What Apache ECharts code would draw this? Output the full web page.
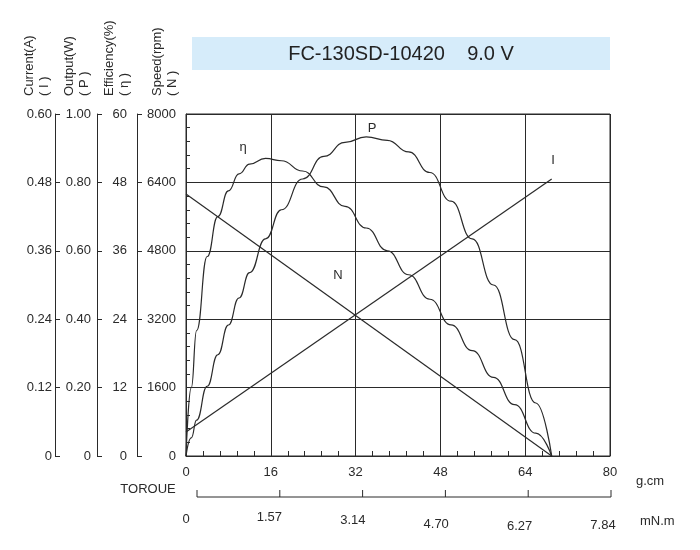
<!DOCTYPE html>
<html><head><meta charset="utf-8">
<script src="https://cdn.jsdelivr.net/npm/echarts@6/dist/echarts.min.js"></script>
<style>html,body{margin:0;padding:0;background:#fff}#c{width:700px;height:550px}</style>
</head><body><div id="c"></div>
<script>
var torque = [0,1,2,4,6,8,10,12,15,18,22,26,30,34,38,42,46,50,54,58,62,66,69];
var output = [0,0.053,0.105,0.204,0.296,0.383,0.462,0.536,0.635,0.720,0.810,0.876,0.917,0.933,0.923,0.889,0.829,0.745,0.635,0.500,0.340,0.155,0];
var efficiency = [0,12,22,35,42,46.5,49.5,51.2,52.2,51.8,50,47.2,43.8,40,36,31.8,27.5,23,18.5,13.8,9,4,0];
var currentPts = [[0,0.042],[69,0.486]];
var speedPts = [[0,6130],[69,0]];
var xTicks = [0,16,32,48,64,80];
var mNmTicks = ['0','1.57','3.14','4.70','6.27','7.84'];
var mNmY = [519,517,520,524,526,525];
var title = 'FC-130SD-10420    9.0 V';
var axisNames = [['Current(A)','( I )',37],['Output(W)','( P )',77],['Efficiency(%)','( η )',117],['Speed(rpm)','( N )',165]];

var C = '#2a2a2a';
var F = 'Liberation Sans, Arial, sans-serif';
function fmt2(v){return v===0?'0':v.toFixed(2);}
function lineAxis(off,min,max,iv){return {type:'value',position:'left',offset:off,min:min,max:max,interval:iv,
  axisLine:{show:true,lineStyle:{color:C}},axisTick:{show:true,inside:true,length:5,lineStyle:{color:C}},
  axisLabel:{show:false},splitLine:{show:false}};}
function labelAxis(off,min,max,iv,f){return {type:'value',position:'left',offset:off,min:min,max:max,interval:iv,
  axisLine:{show:false},axisTick:{show:false},splitLine:{show:false},
  axisLabel:{show:true,margin:3,color:C,fontSize:13,fontFamily:F,formatter:f}};}
var chart = echarts.init(document.getElementById('c'));
var yAxes = [
  {type:'value',min:0,max:8000,interval:1600,axisLine:{show:true,lineStyle:{color:C}},
   axisTick:{show:true,inside:true,length:0},minorTick:{show:true,splitNumber:5,length:4,lineStyle:{color:C}},
   axisLabel:{show:false},splitLine:{show:true,lineStyle:{color:C,width:1}}},
  Object.assign(lineAxis(131,0,0.6,0.12),{axisLabel:{show:true,margin:3,color:C,fontSize:13,fontFamily:F,formatter:fmt2}}),
  labelAxis(92,0,1,0.2,fmt2),
  lineAxis(89,0,60,12),
  labelAxis(56,0,60,12,function(v){return String(v);}),
  lineAxis(49,0,8000,1600),
  labelAxis(7,0,8000,1600,function(v){return String(v);})
];
var ls = {color:C,width:1.2};
chart.setOption({
  animation:false,
  grid:{left:186,top:114,right:90,bottom:94,show:true,borderColor:C,borderWidth:1},
  xAxis:{type:'value',min:0,max:80,interval:16,
    axisLine:{show:true,lineStyle:{color:C}},axisTick:{show:true,inside:true,length:0},
    minorTick:{show:true,splitNumber:5,length:5,lineStyle:{color:C}},
    splitLine:{show:true,lineStyle:{color:C}},
    axisLabel:{margin:10,color:C,fontSize:13,fontFamily:F}},
  yAxis:yAxes,
  series:[
    {type:'line',yAxisIndex:0,data:speedPts,showSymbol:false,lineStyle:ls},
    {type:'line',yAxisIndex:1,data:currentPts,showSymbol:false,lineStyle:ls},
    {type:'line',yAxisIndex:2,smooth:0.5,smoothMonotone:'x',data:torque.map(function(t,i){return [t,output[i]];}),showSymbol:false,lineStyle:ls},
    {type:'line',yAxisIndex:4,smooth:0.5,smoothMonotone:'x',data:torque.map(function(t,i){return [t,efficiency[i]];}),showSymbol:false,lineStyle:ls}
  ]
});
var g = [
  {type:'rect',shape:{x:192,y:37,width:418,height:33},style:{fill:'#d6ecfa'}},
  {type:'text',x:401,y:54,style:{text:title,font:'20px '+F,fill:'#222',align:'center',verticalAlign:'middle'}},
  {type:'text',x:243,y:147,style:{text:'η',font:'13px '+F,fill:C,align:'center',verticalAlign:'middle'}},
  {type:'text',x:372,y:128,style:{text:'P',font:'13px '+F,fill:C,align:'center',verticalAlign:'middle'}},
  {type:'text',x:338,y:275,style:{text:'N',font:'13px '+F,fill:C,align:'center',verticalAlign:'middle'}},
  {type:'text',x:553,y:160,style:{text:'I',font:'13px '+F,fill:C,align:'center',verticalAlign:'middle'}},
  {type:'text',x:636,y:481,style:{text:'g.cm',font:'13px '+F,fill:C,verticalAlign:'middle'}},
  {type:'text',x:148,y:489,style:{text:'TOROUE',font:'13px '+F,fill:C,align:'center',verticalAlign:'middle'}},
  {type:'text',x:640,y:521,style:{text:'mN.m',font:'13px '+F,fill:C,verticalAlign:'middle'}},
  {type:'line',shape:{x1:197,y1:497,x2:611,y2:497},style:{stroke:C,lineWidth:1}}
];
axisNames.forEach(function(a){
  g.push({type:'text',x:a[2]-8,y:96,rotation:Math.PI/2,style:{text:a[0],font:'13px '+F,fill:C,align:'left',verticalAlign:'middle'}});
  g.push({type:'text',x:a[2]+7,y:96,rotation:Math.PI/2,style:{text:a[1],font:'13px '+F,fill:C,align:'left',verticalAlign:'middle'}});
});
xTicks.forEach(function(t,i){
  var tx = 197 + t/80*414;
  g.push({type:'line',shape:{x1:tx,y1:497,x2:tx,y2:490},style:{stroke:C,lineWidth:1}});
  g.push({type:'text',x:186+t/80*417,y:mNmY[i],style:{text:mNmTicks[i],font:'13px '+F,fill:C,align:'center',verticalAlign:'middle'}});
});
chart.setOption({graphic:g});
</script></body></html>
